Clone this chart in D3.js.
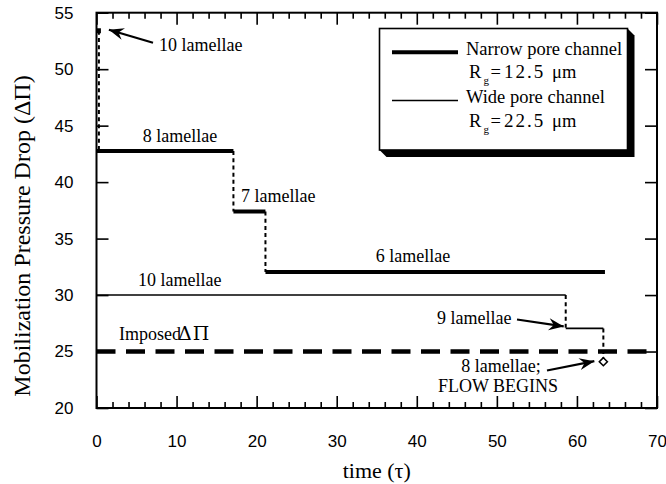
<!DOCTYPE html>
<html>
<head>
<meta charset="utf-8">
<script src="https://cdn.jsdelivr.net/npm/d3@7"></script>
<style>
  html, body { margin: 0; padding: 0; background: #fff; }
  svg { display: block; }
</style>
</head>
<body>
<div id="chart"></div>
<script>
// Axis ticks
const xMajorTicks = [0, 10, 20, 30, 40, 50, 60, 70];
const xMinorTicks = d3.range(0, 70.01, 2).filter(v => v % 10 !== 0);
const yMajorTicks = [20, 25, 30, 35, 40, 45, 50, 55];

// Narrow pore channel (R_g = 12.5 um): pressure drop per lamella count
const narrowLamellae = [10, 8, 7, 6];
const narrowDrop     = [53.4, 42.75, 37.4, 32.05];
const narrowStart    = [0.3, 0, 17.1, 21.1];
const narrowEnd      = [0.3, 17.1, 21.1, 63.5];

// Wide pore channel (R_g = 22.5 um)
const wideLamellae = [10, 9, 8];
const wideDrop     = [30, 27.05, 24.1];
const wideStart    = [0, 58.6, 63.3];
const wideEnd      = [58.6, 63.3, 63.3];

// Imposed pressure drop
const imposedDrop = 25;

// Legend entries
const legendNames  = ["Narrow pore channel", "Wide pore channel"];
const legendRadius = ["12.5", "22.5"];

const SERIF = '"Liberation Serif", "Times New Roman", serif';
const SANS = '"Liberation Sans", Arial, sans-serif';

const W = 666, H = 484;
const svg = d3.select("#chart").append("svg")
  .attr("width", W).attr("height", H);

const x = d3.scaleLinear().domain([0, 70]).range([96.5, 657]);
const y = d3.scaleLinear().domain([20, 55]).range([408, 12.7]);

// arrow head
const defs = svg.append("defs");
defs.append("marker")
  .attr("id", "arrow")
  .attr("viewBox", "-16 -7 18 14")
  .attr("refX", 0).attr("refY", 0)
  .attr("markerWidth", 18).attr("markerHeight", 14)
  .attr("markerUnits", "userSpaceOnUse")
  .attr("orient", "auto")
  .append("path")
  .attr("d", "M0,0 L-15,-6 L-10,0 L-15,6 Z")
  .attr("fill", "#000");

// ---- axes ----
function styleAxis(g) {
  g.select(".domain").remove();
  g.selectAll(".tick line").attr("stroke", "#000").attr("stroke-width", 1.6);
}
function styleLabels(g) {
  g.selectAll("text").attr("font-family", SANS).attr("font-size", 17).attr("fill", "#000");
}

svg.append("g").attr("transform", `translate(0,${y(20)})`)
  .call(d3.axisBottom(x).tickValues(xMajorTicks).tickSize(-12).tickPadding(27).tickFormat(d3.format("d")))
  .call(styleAxis).call(styleLabels);
svg.append("g").attr("transform", `translate(0,${y(20)})`)
  .call(d3.axisBottom(x).tickValues(xMinorTicks).tickSize(-6).tickFormat(""))
  .call(styleAxis);
svg.append("g").attr("transform", `translate(0,${y(55)})`)
  .call(d3.axisTop(x).tickValues(xMajorTicks).tickSize(-12).tickFormat(""))
  .call(styleAxis);
svg.append("g").attr("transform", `translate(0,${y(55)})`)
  .call(d3.axisTop(x).tickValues(xMinorTicks).tickSize(-6).tickFormat(""))
  .call(styleAxis);
svg.append("g").attr("transform", `translate(${x(0)},0)`)
  .call(d3.axisLeft(y).tickValues(yMajorTicks).tickSize(-12).tickPadding(23).tickFormat(d3.format("d")))
  .call(styleAxis).call(styleLabels);
svg.append("g").attr("transform", `translate(${x(70)},0)`)
  .call(d3.axisRight(y).tickValues(yMajorTicks).tickSize(-12).tickFormat(""))
  .call(styleAxis);

// frame
svg.append("rect")
  .attr("x", x(0)).attr("y", y(55))
  .attr("width", x(70) - x(0)).attr("height", y(20) - y(55))
  .attr("fill", "none").attr("stroke", "#000").attr("stroke-width", 2);

// axis titles
svg.append("text").attr("font-family", SERIF)
  .attr("x", (x(0) + x(70)) / 2).attr("y", 478)
  .attr("text-anchor", "middle").attr("font-size", 22)
  .text("time (\u03c4)");
svg.append("text").attr("font-family", SERIF)
  .attr("transform", "translate(30,236) rotate(-90)")
  .attr("text-anchor", "middle").attr("font-size", 24)
  .text("Mobilization Pressure Drop (\u0394\u03a0)");

// ---- imposed pressure drop ----
svg.append("line")
  .attr("x1", x(0)).attr("x2", x(70))
  .attr("y1", y(imposedDrop)).attr("y2", y(imposedDrop))
  .attr("stroke", "#000").attr("stroke-width", 4.5)
  .attr("stroke-dasharray", "19,10.5");

// ---- step series ----
function drawSteps(drop, start, end, width) {
  const levels = drop.map((p, i) => ({ p, t0: start[i], t1: end[i] }));
  // horizontal levels
  svg.append("g").selectAll("line")
    .data(levels.filter(d => d.t1 > d.t0))
    .join("line")
    .attr("x1", d => x(d.t0)).attr("x2", d => x(d.t1))
    .attr("y1", d => y(d.p)).attr("y2", d => y(d.p))
    .attr("stroke", "#000").attr("stroke-width", width);
  // dashed drops between successive levels
  svg.append("g").selectAll("line")
    .data(d3.range(levels.length - 1))
    .join("line")
    .attr("x1", i => x(levels[i].t1)).attr("x2", i => x(levels[i].t1))
    .attr("y1", i => y(levels[i].p)).attr("y2", i => y(levels[i + 1].p))
    .attr("stroke", "#000").attr("stroke-width", 2)
    .attr("stroke-dasharray", "4,3.2");
}
drawSteps(narrowDrop, narrowStart, narrowEnd, 4);
drawSteps(wideDrop, wideStart, wideEnd, 1.6);

// starting point of the narrow channel
svg.append("rect")
  .attr("x", x(narrowStart[0]) - 2).attr("y", y(narrowDrop[0]) - 2.5)
  .attr("width", 4).attr("height", 5).attr("fill", "#000");

// flow onset in the wide channel
const dx = x(wideStart[2]), dy = y(wideDrop[2]);
svg.append("path")
  .attr("d", `M${dx},${dy - 4} L${dx + 4},${dy} L${dx},${dy + 4} L${dx - 4},${dy} Z`)
  .attr("fill", "#fff").attr("stroke", "#000").attr("stroke-width", 1.6);

// ---- annotations ----
const ann = svg.append("g").attr("font-family", SERIF).attr("font-size", 18).attr("fill", "#000");
ann.append("text").attr("x", 159).attr("y", 51).text(`${narrowLamellae[0]} lamellae`);
ann.append("text").attr("x", 180).attr("y", 142)
  .attr("text-anchor", "middle").text(`${narrowLamellae[1]} lamellae`);
ann.append("text").attr("x", 241).attr("y", 202).text(`${narrowLamellae[2]} lamellae`);
ann.append("text").attr("x", 413).attr("y", 262).attr("text-anchor", "middle").text(`${narrowLamellae[3]} lamellae`);
ann.append("text").attr("x", 138).attr("y", 286).text(`${wideLamellae[0]} lamellae`);
ann.append("text").attr("x", 437).attr("y", 324).text(`${wideLamellae[1]} lamellae`);
ann.append("text").attr("x", 501).attr("y", 372).attr("text-anchor", "middle").text(`${wideLamellae[2]} lamellae;`);
ann.append("text").attr("x", 498).attr("y", 392).attr("text-anchor", "middle").text("FLOW BEGINS");
ann.append("text").attr("x", 119).attr("y", 340).text("Imposed");
ann.append("text").attr("x", 178).attr("y", 340)
  .attr("font-family", '"DejaVu Serif", serif').attr("font-size", 19)
  .attr("letter-spacing", 1).text("\u0394\u03a0");

// arrows
const arrows = [
  [153, 42.7, x(narrowStart[0]) + 10, y(narrowDrop[0]) - 1],
  [517, 319.5, x(wideStart[1]) - 2, y(wideDrop[1]) - 2],
  [547, 370.5, x(wideStart[2]) - 9, y(wideDrop[2]) - 0.5]
];
svg.append("g").selectAll("line").data(arrows).join("line")
  .attr("x1", d => d[0]).attr("y1", d => d[1])
  .attr("x2", d => d[2]).attr("y2", d => d[3])
  .attr("stroke", "#000").attr("stroke-width", 2.2)
  .attr("marker-end", "url(#arrow)");

// ---- legend ----
const L = { x: 379.5, y: 28.5, w: 248, h: 121.5, s: 7 };
const leg = svg.append("g");
leg.append("path")
  .attr("d", `M${L.x + L.w},${L.y} L${L.x + L.w + L.s},${L.y + L.s} L${L.x + L.w + L.s},${L.y + L.h + L.s} ` +
             `L${L.x + L.s},${L.y + L.h + L.s} L${L.x},${L.y + L.h} Z`)
  .attr("fill", "#000");
leg.append("rect")
  .attr("x", L.x).attr("y", L.y).attr("width", L.w).attr("height", L.h)
  .attr("fill", "#fff").attr("stroke", "#000").attr("stroke-width", 1.6);

const rowY = [52.3, 100.5];
const lineW = [4, 1.6];
legendNames.forEach((name, i) => {
  const g = leg.append("g").attr("font-family", SERIF).attr("fill", "#000");
  g.append("line")
    .attr("x1", 392).attr("x2", 458).attr("y1", rowY[i]).attr("y2", rowY[i])
    .attr("stroke", "#000").attr("stroke-width", lineW[i]);
  g.append("text").attr("x", 466).attr("y", rowY[i] + 2.8)
    .attr("font-size", 18.5).text(name);
  const by = rowY[i] + 26;
  g.append("text").attr("x", 469).attr("y", by).attr("font-size", 18.5).text("R");
  g.append("text").attr("x", 483.5).attr("y", by + 6).attr("font-size", 11).text("g");
  g.append("text").attr("x", 490.5).attr("y", by).attr("font-size", 18.5).text("=");
  g.append("text").attr("x", 504).attr("y", by).attr("font-size", 19)
    .attr("letter-spacing", 2).text(legendRadius[i]);
  g.append("text").attr("x", 552).attr("y", by).attr("font-size", 18.5).text("\u03bcm");
});
</script>
</body>
</html>
